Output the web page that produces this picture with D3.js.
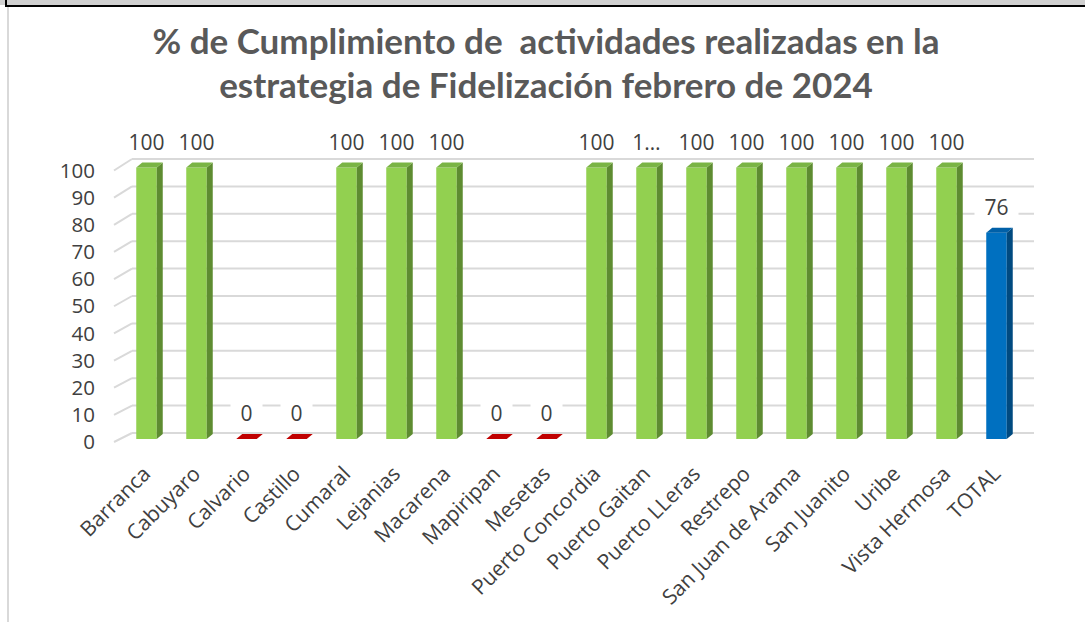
<!DOCTYPE html>
<html lang="es">
<head>
<meta charset="UTF-8">
<title>Cumplimiento Fidelización</title>
<script src="https://cdn.jsdelivr.net/npm/d3@7"></script>
<style>
  body { margin: 0; background: #fff; }
  svg { display: block; }
  text { white-space: pre; }
</style>
</head>
<body>
<svg id="chart" width="1085" height="622"></svg>
<script>
// data
const categories = ["Barranca", "Cabuyaro", "Calvario", "Castillo", "Cumaral", "Lejanias",
  "Macarena", "Mapiripan", "Mesetas", "Puerto Concordia", "Puerto Gaitan", "Puerto LLeras",
  "Restrepo", "San Juan de Arama", "San Juanito", "Uribe", "Vista Hermosa", "TOTAL"]
const values = [100, 100, 0, 0, 100, 100, 100, 0, 0, 100, 100, 100, 100, 100, 100, 100, 100, 76]
const labels = ["100", "100", "0", "0", "100", "100", "100", "0", "0", "100", "1…", "100",
  "100", "100", "100", "100", "100", "76"]
const yTicks = [0, 10, 20, 30, 40, 50, 60, 70, 80, 90, 100]
const titleLines = ["% de Cumplimiento de  actividades realizadas en la",
  "estrategia de Fidelización febrero de 2024"]

const labelFont = "'Open Sans', 'DejaVu Sans', sans-serif"
const svg = d3.select('#chart')

// frame bits
svg.append('rect').attr('x', 0).attr('y', 0).attr('width', 1085).attr('height', 5).attr('fill', '#d0d0d0')
svg.append('rect').attr('x', 5).attr('y', 5).attr('width', 1080).attr('height', 2).attr('fill', '#000')
svg.append('rect').attr('x', 5).attr('y', 0).attr('width', 2).attr('height', 7).attr('fill', '#000')
svg.append('rect').attr('x', 7).attr('y', 7).attr('width', 2).attr('height', 615).attr('fill', '#d9d9d9')

// title
svg.append('g').selectAll('text')
  .data(titleLines)
  .join('text')
  .attr('x', 546)
  .attr('y', (d, i) => 54 + i * 44)
  .attr('text-anchor', 'middle')
  .attr('font-family', 'Lato, sans-serif')
  .attr('font-weight', 700)
  .attr('font-size', 35)
  .attr('fill', '#595959')
  .text(d => d)

// scales
const x = d3.scaleBand()
  .domain(categories)
  .range([121.5, 1021.5])
  .paddingInner(0.59)
  .paddingOuter(0.295)

const yBar = d3.scaleLinear().domain([0, 100]).range([439, 167.5])  // front (bars)
const yWall = d3.scaleLinear().domain([0, 100]).range([433, 159])   // back wall
const dx = 6, dy = -5
const bw = x.bandwidth()

// gridlines on the wall + little floor diagonals
const grid = svg.append('g')
grid.selectAll('line.g')
  .data(yTicks)
  .join('line')
  .attr('class', 'g')
  .attr('x1', 132).attr('x2', 1034)
  .attr('y1', d => yWall(d)).attr('y2', d => yWall(d))
  .attr('stroke', '#d9d9d9').attr('stroke-width', 2)
grid.selectAll('line.d')
  .data(yTicks)
  .join('line')
  .attr('class', 'd')
  .attr('x1', 114).attr('x2', 132)
  .attr('y1', d => yBar(d) + 3).attr('y2', d => yWall(d))
  .attr('stroke', '#d9d9d9').attr('stroke-width', 2)

// y axis labels
svg.append('g').selectAll('text')
  .data(yTicks)
  .join('text')
  .attr('x', 95)
  .attr('y', d => yBar(d) + 3)
  .attr('dy', '0.35em')
  .attr('text-anchor', 'end')
  .attr('font-family', labelFont)
  .attr('font-size', 20.5)
  .attr('fill', '#404040')
  .text(d => d)

const colorOf = (d, i) => {
  if (categories[i] === 'TOTAL') return { front: '#0070c0', side: '#004a80', top: '#0060a8' }
  if (d === 0) return { front: '#c00000', side: '#c00000', top: '#c00000' }
  return { front: '#92d050', side: '#5e8c31', top: '#7ab445' }
}

const bars = svg.append('g').selectAll('g')
  .data(values)
  .join('g')

bars.append('rect')
  .attr('x', (d, i) => x(categories[i]))
  .attr('y', d => yBar(d))
  .attr('width', bw)
  .attr('height', d => yBar(0) - yBar(d))
  .attr('fill', (d, i) => colorOf(d, i).front)

bars.append('polygon')
  .attr('points', (d, i) => {
    const x0 = x(categories[i]) + bw
    return [[x0, yBar(d)], [x0 + dx, yBar(d) + dy], [x0 + dx, yBar(0) + dy], [x0, yBar(0)]].join(' ')
  })
  .attr('fill', (d, i) => colorOf(d, i).side)

bars.append('polygon')
  .attr('points', (d, i) => {
    const x0 = x(categories[i])
    return [[x0, yBar(d)], [x0 + dx, yBar(d) + dy], [x0 + bw + dx, yBar(d) + dy], [x0 + bw, yBar(d)]].join(' ')
  })
  .attr('fill', (d, i) => colorOf(d, i).top)

// data labels with white boxes
const lab = svg.append('g').selectAll('g')
  .data(values)
  .join('g')
  .attr('transform', (d, i) => `translate(${x(categories[i]) + bw / 2},${yBar(d) - 25})`)

lab.append('text')
  .attr('text-anchor', 'middle')
  .attr('dy', '0.35em')
  .attr('font-family', labelFont)
  .attr('font-size', 21)
  .attr('fill', '#404040')
  .text((d, i) => labels[i])

lab.insert('rect', 'text')
  .each(function () {
    const w = this.parentNode.querySelector('text').getComputedTextLength() + 20
    d3.select(this).attr('x', -w / 2).attr('width', w)
  })
  .attr('y', -13)
  .attr('height', 26)
  .attr('fill', '#fff')

// category labels
svg.append('g').selectAll('text')
  .data(categories)
  .join('text')
  .attr('transform', d => `translate(${x(d) + bw / 2},470) rotate(-45)`)
  .attr('text-anchor', 'end')
  .attr('dy', '0.35em')
  .attr('font-family', labelFont)
  .attr('font-size', 21)
  .attr('fill', '#404040')
  .text(d => d)
</script>
</body>
</html>
